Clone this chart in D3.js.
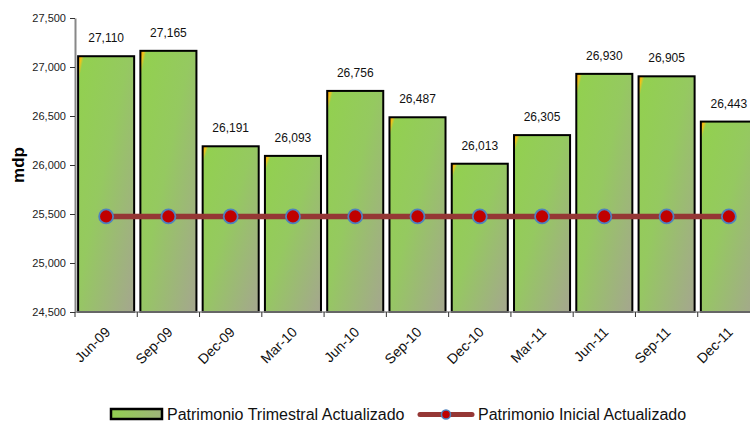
<!DOCTYPE html>
<html>
<head>
<meta charset="utf-8">
<script src="https://cdn.jsdelivr.net/npm/d3@7"></script>
<style>
  html, body { margin: 0; padding: 0; background: #fff; }
  svg { display: block; font-family: "Liberation Sans", Arial, sans-serif; }
</style>
</head>
<body>
<svg id="chart" width="750" height="423"></svg>
<script>
// Quarterly figures (mdp)
const categories = ["Jun-09", "Sep-09", "Dec-09", "Mar-10", "Jun-10", "Sep-10", "Dec-10", "Mar-11", "Jun-11", "Sep-11", "Dec-11"];
const trimestral = [27110, 27165, 26191, 26093, 26756, 26487, 26013, 26305, 26930, 26905, 26443];
const inicial = [25475, 25475, 25475, 25475, 25475, 25475, 25475, 25475, 25475, 25475, 25475];
const yTicks = [24500, 25000, 25500, 26000, 26500, 27000, 27500];
const seriesNames = ["Patrimonio Trimestral Actualizado", "Patrimonio Inicial Actualizado"];

const svg = d3.select("#chart");
const fmt = d3.format(",");

const x = d3.scaleBand().domain(categories).range([75, 760]).paddingInner(0.1).paddingOuter(0.05);
const y = d3.scaleLinear().domain([24500, 27500]).range([312, 18]);

// Bar fill: green fading diagonally to olive-grey, with a warm highlight in the corner
const defs = svg.append("defs");
const grad = defs.append("linearGradient").attr("id", "barFill")
  .attr("x1", 0).attr("y1", 0).attr("x2", 1).attr("y2", 1);
grad.append("stop").attr("offset", "0%").attr("stop-color", "#e88a00");
grad.append("stop").attr("offset", "3%").attr("stop-color", "#f2c21a");
grad.append("stop").attr("offset", "5.5%").attr("stop-color", "#92d050");
grad.append("stop").attr("offset", "45%").attr("stop-color", "#95c960");
grad.append("stop").attr("offset", "100%").attr("stop-color", "#a5a68f");

const legendGrad = defs.append("linearGradient").attr("id", "legendFill")
  .attr("x1", 0).attr("y1", 0).attr("x2", 1).attr("y2", 0);
legendGrad.append("stop").attr("offset", "0%").attr("stop-color", "#92d050");
legendGrad.append("stop").attr("offset", "100%").attr("stop-color", "#9fb37a");

// Y axis
const yAxis = svg.append("g").attr("transform", "translate(75,0)")
  .call(d3.axisLeft(y).tickValues(yTicks).tickFormat(fmt).tickSize(5).tickSizeOuter(0));
yAxis.select(".domain").attr("stroke", "#888").attr("stroke-width", 2);
yAxis.selectAll(".tick line").attr("stroke", "#333");
yAxis.selectAll(".tick text").attr("font-size", 11).attr("fill", "#222").attr("x", -9)
  .attr("font-family", "Liberation Sans, Arial, sans-serif");

// Bars
svg.append("g").selectAll("rect").data(trimestral).join("rect")
  .attr("x", (d, i) => x(categories[i]))
  .attr("y", d => y(d))
  .attr("width", x.bandwidth())
  .attr("height", d => y(24500) - y(d))
  .attr("fill", "url(#barFill)")
  .attr("stroke", "#000")
  .attr("stroke-width", 2);

// X axis (ticks at category boundaries)
const xg = svg.append("g").attr("transform", "translate(0,312)");
xg.append("line").attr("x1", 75).attr("x2", 760).attr("stroke", "#888").attr("stroke-width", 1.5);
const step = x.step();
const bounds = d3.range(categories.length + 1).map(i => x(categories[0]) - x.paddingInner() * step / 2 + i * step);
xg.selectAll("line.tk").data(bounds).join("line").attr("class", "tk")
  .attr("x1", d => d).attr("x2", d => d).attr("y1", 0).attr("y2", 5).attr("stroke", "#333");
xg.selectAll("text").data(categories).join("text")
  .attr("transform", d => `translate(${x(d) + x.bandwidth() / 2 + 5},${21}) rotate(-45)`)
  .attr("text-anchor", "end")
  .attr("font-size", 14)
  .attr("fill", "#111")
  .text(d => d);

// Value labels
svg.append("g").selectAll("text").data(trimestral).join("text")
  .attr("x", (d, i) => x(categories[i]) + x.bandwidth() / 2)
  .attr("y", d => y(d) - 14)
  .attr("text-anchor", "middle")
  .attr("font-size", 12)
  .attr("fill", "#111")
  .text(d => fmt(d));

// Initial-equity line with markers
const cx = (d, i) => x(categories[i]) + x.bandwidth() / 2;
svg.append("path").datum(inicial)
  .attr("d", d3.line().x(cx).y(d => y(d)))
  .attr("fill", "none").attr("stroke", "#953735").attr("stroke-width", 5.5);
svg.append("g").selectAll("circle").data(inicial).join("circle")
  .attr("cx", cx).attr("cy", d => y(d)).attr("r", 7)
  .attr("fill", "#c00000").attr("stroke", "#4f81bd").attr("stroke-width", 1.8);

// Axis title
svg.append("text")
  .attr("transform", "translate(24,165) rotate(-90)")
  .attr("text-anchor", "middle")
  .attr("font-size", 17).attr("font-weight", "bold").attr("fill", "#000")
  .text("mdp");

// Legend
const lg = svg.append("g");
lg.append("rect").attr("x", 111).attr("y", 409).attr("width", 51).attr("height", 10)
  .attr("fill", "url(#legendFill)").attr("stroke", "#000").attr("stroke-width", 2.5);
lg.append("text").attr("x", 167).attr("y", 420).attr("font-size", 16).attr("fill", "#111").text(seriesNames[0]);
lg.append("line").attr("x1", 420).attr("x2", 472).attr("y1", 414.5).attr("y2", 414.5)
  .attr("stroke", "#953735").attr("stroke-width", 5).attr("stroke-linecap", "round");
lg.append("circle").attr("cx", 446).attr("cy", 414.5).attr("r", 4.5)
  .attr("fill", "#c00000").attr("stroke", "#4f81bd").attr("stroke-width", 1.5);
lg.append("text").attr("x", 478).attr("y", 420).attr("font-size", 16).attr("fill", "#111").text(seriesNames[1]);
</script>
</body>
</html>
